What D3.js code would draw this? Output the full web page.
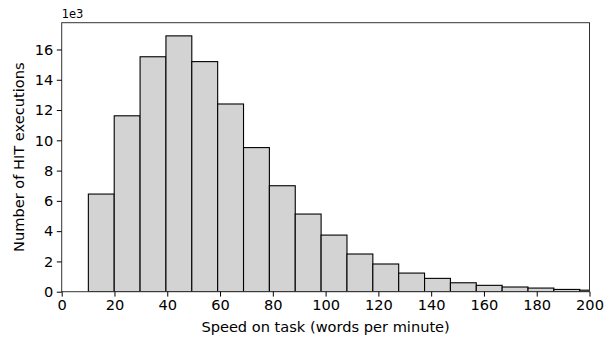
<!DOCTYPE html>
<html>
<head>
<meta charset="utf-8">
<script src="https://cdn.jsdelivr.net/npm/d3@7"></script>
<style>
  body { margin: 0; background: #fff; }
  svg { font-family: "DejaVu Sans", sans-serif; }
</style>
</head>
<body>
<svg width="614" height="338"></svg>
<script>
// края интервалов гистограммы (слова в минуту)
const binEdges = [10.1, 19.9, 29.7, 39.5, 49.3, 59.1, 68.9, 78.7, 88.5, 98.3, 108.1,
  117.9, 127.7, 137.5, 147.3, 157.1, 166.9, 176.7, 186.5, 196.3, 206.1];
// число выполнений HIT в каждом интервале
const counts = [6450, 11620, 15520, 16900, 15200, 12400, 9520, 7000, 5130, 3740,
  2490, 1830, 1230, 880, 590, 420, 310, 240, 150, 100];
const xTicks = [0, 20, 40, 60, 80, 100, 120, 140, 160, 180, 200];
const yTicks = [0, 2000, 4000, 6000, 8000, 10000, 12000, 14000, 16000];

const svg = d3.select("svg");
const area = { left: 61.7, right: 589.5, top: 22.7, bottom: 291.7 };
const fontSize = "14.6px";

const scX = d3.scaleLinear().domain([0, 200]).range([area.left, area.right]);
const scY = d3.scaleLinear().domain([0, 17770]).range([area.bottom, area.top]);

const bars = binEdges.slice(0, -1).map((e, i) => ({ x0: e, x1: binEdges[i + 1], v: counts[i] }));

svg.append("clipPath").attr("id", "clip")
  .append("rect")
  .attr("x", area.left).attr("y", area.top)
  .attr("width", area.right - area.left).attr("height", area.bottom - area.top);

svg.append("g").attr("clip-path", "url(#clip)")
  .selectAll("rect")
  .data(bars)
  .enter()
  .append("rect")
  .attr("x", d => scX(d.x0))
  .attr("width", d => scX(d.x1) - scX(d.x0))
  .attr("y", d => scY(d.v))
  .attr("height", d => scY(0) - scY(d.v))
  .style("fill", "#d3d3d3")
  .style("stroke", "#000")
  .style("stroke-width", 1.1);

// рамка
svg.append("rect")
  .attr("x", area.left).attr("y", area.top)
  .attr("width", area.right - area.left).attr("height", area.bottom - area.top)
  .style("fill", "none").style("stroke", "#333").style("stroke-width", 1);

const axisX = d3.axisBottom(scX).tickValues(xTicks).tickSize(4.9).tickPadding(3.5).tickSizeOuter(0);
const axisY = d3.axisLeft(scY).tickValues(yTicks).tickSize(4.9).tickPadding(3.5).tickSizeOuter(0)
  .tickFormat(d => d / 1000);

const gx = svg.append("g").attr("transform", `translate(0, ${area.bottom})`).call(axisX);
const gy = svg.append("g").attr("transform", `translate(${area.left}, 0)`).call(axisY);

[gx, gy].forEach(g => {
  g.select(".domain").remove();
  g.selectAll("text").style("font-size", fontSize).style("fill", "#000")
    .style("font-family", "DejaVu Sans, sans-serif");
  g.selectAll("line").style("stroke", "#000");
});

svg.append("text")
  .attr("x", area.left).attr("y", area.top - 5)
  .style("font-size", "11.5px")
  .text("1e3");

svg.append("text")
  .attr("x", (area.left + area.right) / 2).attr("y", 332)
  .attr("text-anchor", "middle")
  .style("font-size", fontSize)
  .text("Speed on task (words per minute)");

svg.append("text")
  .attr("transform", `translate(24, ${(area.top + area.bottom) / 2}) rotate(-90)`)
  .attr("text-anchor", "middle")
  .style("font-size", fontSize)
  .text("Number of HIT executions");
</script>
</body>
</html>
